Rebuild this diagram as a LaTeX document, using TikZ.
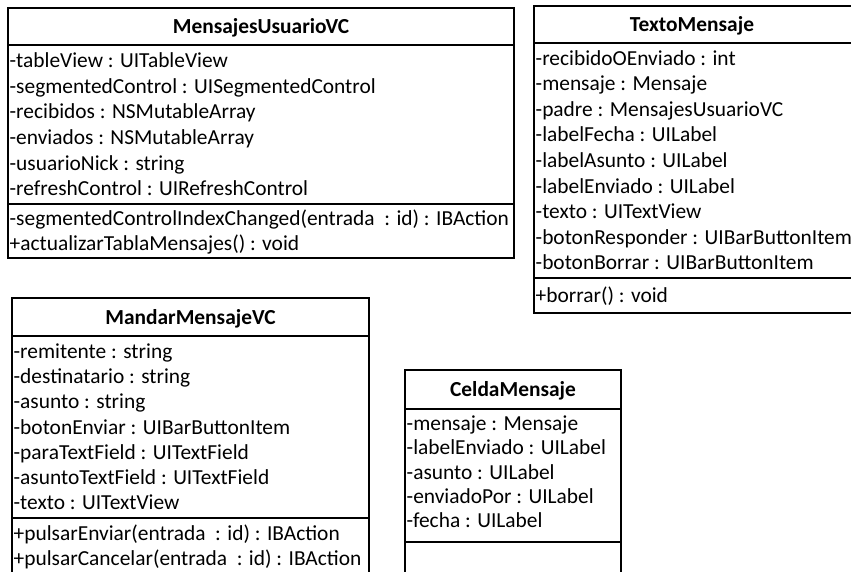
\documentclass[tikz,border=0pt]{standalone}
\usepackage{fontspec}
\setmainfont{Carlito}
\newcommand{\umlfont}{\fontsize{21.4bp}{25bp}\selectfont}
\tikzset{
  umlbox/.style={draw=black, line width=1.8bp},
  umltitle/.style={font=\umlfont\bfseries, anchor=base, inner sep=0pt},
  umlrow/.style={font=\umlfont, anchor=base west, inner sep=0pt},
}
% rows of one compartment: prefix, left edge, top of compartment, pitch, entries
\newcommand{\umlrows}[5]{%
  \foreach \t [count=\i from 0] in {#5}
    \node[umlrow] (#1\i) at ({#2+1.5}, {#3+3+(\i+0.5)*#4+6.5}) {\t};
}
% class frame: left, right, top, title separator, member separator, bottom
\newcommand{\umlframe}[6]{%
  \draw[umlbox] (#1,#3) rectangle (#2,#6);
  \draw[umlbox] (#1,#4) -- (#2,#4);
  \draw[umlbox] (#1,#5) -- (#2,#5);
}
\begin{document}
\begin{tikzpicture}[x=1bp, y=-1bp]
\useasboundingbox (0,0) rectangle (851,572);
\clip (0,0) rectangle (851,572);

% MensajesUsuarioVC
\umlframe{8}{514}{8}{45}{204}{258}
\node[umltitle] (muvc) at (261,33.5) {MensajesUsuarioVC};
\umlrows{muvcA}{8}{45}{25.67}{-tableView : UITableView,-segmentedControl : UISegmentedControl,-recibidos : NSMutableArray,-enviados : NSMutableArray,-usuarioNick : string,-refreshControl : UIRefreshControl}
\umlrows{muvcM}{8}{204}{24.5}{-segmentedControlIndexChanged(entrada~ : id) : IBAction,+actualizarTablaMensajes() : void}

% TextoMensaje
\umlframe{534}{853}{6}{43}{278}{313}
\node[umltitle] (tm) at (692,31.5) {TextoMensaje};
\umlrows{tmA}{534}{43}{25.56}{-recibidoOEnviado : int,-mensaje : Mensaje,-padre : MensajesUsuarioVC,-labelFecha : UILabel,-labelAsunto : UILabel,-labelEnviado : UILabel,-texto : UITextView,-botonResponder : UIBarButtonItem,-botonBorrar : UIBarButtonItem}
\umlrows{tmM}{534}{278}{30}{+borrar() : void}

% MandarMensajeVC
\umlframe{12}{369}{298}{336}{518}{576}
\node[umltitle] (mmvc) at (190.5,324) {MandarMensajeVC};
\umlrows{mmvcA}{12}{336}{25.3}{-remitente : string,-destinatario : string,-asunto : string,-botonEnviar : UIBarButtonItem,-paraTextField : UITextField,-asuntoTextField : UITextField,-texto : UITextView}
\umlrows{mmvcM}{12}{518}{25}{+pulsarEnviar(entrada~ : id) : IBAction,+pulsarCancelar(entrada~ : id) : IBAction}

% CeldaMensaje
\umlframe{405}{621}{370}{409}{542}{580}
\node[umltitle] (cm) at (513,396.5) {CeldaMensaje};
\umlrows{cmA}{405}{409}{24.2}{-mensaje : Mensaje,-labelEnviado : UILabel,-asunto : UILabel,-enviadoPor : UILabel,-fecha : UILabel}
\end{tikzpicture}
\end{document}
